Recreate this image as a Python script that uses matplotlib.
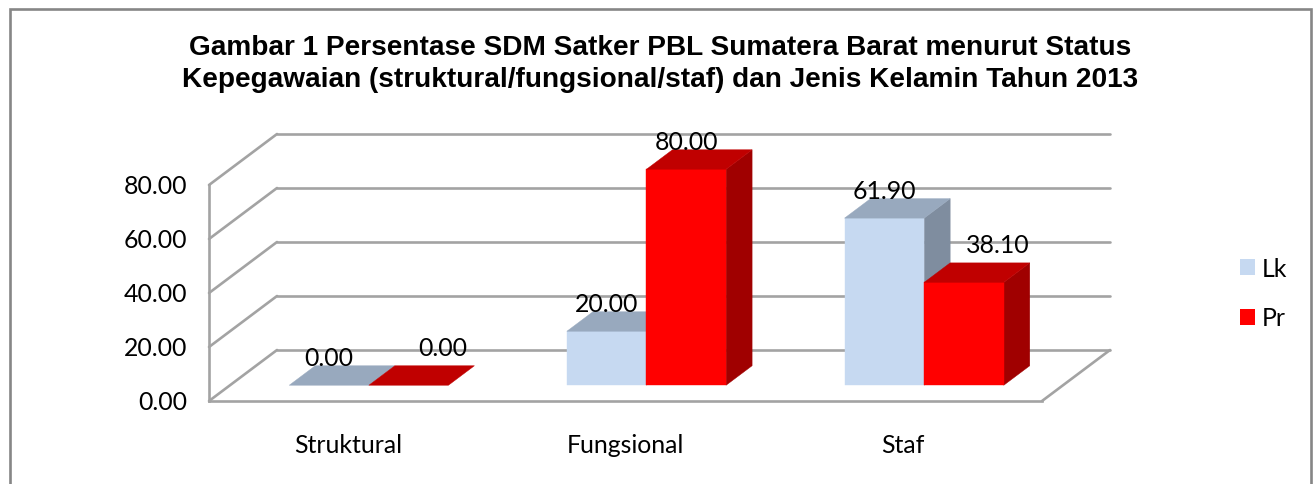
import matplotlib
matplotlib.use("Agg")
import matplotlib.pyplot as plt
from matplotlib.patches import Polygon, Patch, Rectangle
from matplotlib.transforms import ScaledTranslation

categories = ["Struktural", "Fungsional", "Staf"]
series_names = ["Lk", "Pr"]
lk_values = [0.00, 20.00, 61.90]
pr_values = [0.00, 80.00, 38.10]
y_ticks = [0, 20, 40, 60, 80]
title = ("Gambar 1 Persentase SDM Satker PBL Sumatera Barat menurut Status\n"
         "Kepegawaian (struktural/fungsional/staf) dan Jenis Kelamin Tahun 2013")

W, H = 1316, 485
DPI = 100
PLOT_L, PLOT_R, PLOT_T, PLOT_B = 209, 1042, 186, 402
GRID = "#A3A3A3"
FRAME = "#868686"
TEXT_FONT = ["Lato", "DejaVu Sans"]
TITLE_FONT = ["Liberation Sans", "DejaVu Sans"]
TEXT_SIZE = 17.9
LW = 1.9

fig = plt.figure(figsize=(W / DPI, H / DPI), dpi=DPI, facecolor="white")
ax = fig.add_axes([PLOT_L / W, 1 - PLOT_B / H, (PLOT_R - PLOT_L) / W, (PLOT_B - PLOT_T) / H])
ax.set_xlim(-0.5, 2.5)
ax.set_ylim(0, 80)
ax.patch.set_visible(False)

px_x = 3 / (PLOT_R - PLOT_L)   # data units per pixel, horizontally
px_y = 80 / (PLOT_B - PLOT_T)  # data units per pixel, vertically
WALL_DX, WALL_DY = 68 * px_x, 51 * px_y
BAR_W = 79.6 * px_x


def deep(x, y, frac):
    return x + frac * WALL_DX, y + frac * WALL_DY


line = dict(color=GRID, lw=LW, clip_on=False, solid_capstyle="round", solid_joinstyle="round")

# back wall gridlines and left wall diagonals
for t in y_ticks:
    x0, y0 = deep(-0.5, t, 1)
    x1, y1 = deep(2.5, t, 1)
    ax.plot([x0, x1], [y0, y1], zorder=1, **line)
    ax.plot([-0.5, x0], [t, y0], zorder=1, **line)
x1, y1 = deep(2.5, 0, 1)
ax.plot([2.5, x1], [0, y1], zorder=1, **line)

for side in ("top", "right"):
    ax.spines[side].set_visible(False)
for side in ("left", "bottom"):
    ax.spines[side].set_color(GRID)
    ax.spines[side].set_linewidth(LW)
    ax.spines[side].set_zorder(1)

ax.set_yticks(y_ticks, [f"{t:.2f}" for t in y_ticks])
ax.set_xticks(range(len(categories)), categories)
ax.tick_params(axis="both", length=0, labelsize=TEXT_SIZE, labelcolor="black")
ax.tick_params(axis="y", pad=16)
ax.tick_params(axis="x", pad=23)
for lab in ax.get_xticklabels() + ax.get_yticklabels():
    lab.set_fontfamily(TEXT_FONT)
for lab in ax.get_yticklabels():
    lab.set_transform(lab.get_transform() + ScaledTranslation(0, 1.5 / DPI, fig.dpi_scale_trans))

FRONT, BACK = 21 / 68, 47 / 68
styles = {
    "Lk": dict(front="#C6D9F1", top="#98A9BE", side="#7F8D9F"),
    "Pr": dict(front="#FF0000", top="#C00000", side="#A00000"),
}
# Label placement quirk of the original: these labels are pushed right and up.
shifted = {("Pr", "Struktural"), ("Pr", "Staf")}

z = 3
for cat_i, cat in enumerate(categories):
    for ser_i, (name, vals) in enumerate(zip(series_names, (lk_values, pr_values))):
        v = vals[cat_i]
        left = cat_i + (ser_i - 1) * BAR_W
        right = left + BAR_W
        st = styles[name]
        a = deep(left, 0, FRONT)
        b = deep(right, 0, FRONT)
        c = deep(right, v, FRONT)
        d = deep(left, v, FRONT)
        e = deep(right, 0, BACK)
        f = deep(right, v, BACK)
        g = deep(left, v, BACK)
        if v > 0:
            ax.add_patch(Polygon([b, e, f, c], fc=st["side"], ec=st["side"], lw=0.3, clip_on=False, zorder=z))
            ax.add_patch(Polygon([a, b, c, d], fc=st["front"], ec=st["front"], lw=0.3, clip_on=False, zorder=z))
        ax.add_patch(Polygon([d, c, f, g], fc=st["top"], ec=st["top"], lw=0.3, clip_on=False, zorder=z))
        z += 1
        dx, dy = (34, 38) if (name, cat) in shifted else (0, 28)
        ax.annotate(f"{v:.2f}", xy=((a[0] + b[0]) / 2, d[1]), xytext=(dx, dy), textcoords="offset pixels",
                    ha="center", va="center", fontsize=TEXT_SIZE, fontfamily=TEXT_FONT,
                    color="black", annotation_clip=False, zorder=50)

leg = ax.legend(
    handles=[Patch(fc=styles[n]["front"], ec="none", label=n) for n in series_names],
    loc="center left",
    bbox_to_anchor=(1240 / W, 1 - 294 / H),
    bbox_transform=fig.transFigure,
    frameon=False,
    prop={"family": TEXT_FONT, "size": TEXT_SIZE},
    handlelength=0.6,
    handleheight=0.6,
    handletextpad=0.28,
    labelspacing=1.08,
    borderpad=0,
    borderaxespad=0,
)

fig.text(660 / W, 1 - 64 / H, title, ha="center", va="center", fontsize=20.15, fontweight="bold",
         fontfamily=TITLE_FONT, linespacing=1.3, color="black")

fig.add_artist(Rectangle((10 / W, -0.1), (1311 - 10) / W, 1.1 - 9.5 / H, transform=fig.transFigure,
                         fc="none", ec=FRAME, lw=1.9))

fig.savefig("out.png", dpi=DPI, facecolor="white")
